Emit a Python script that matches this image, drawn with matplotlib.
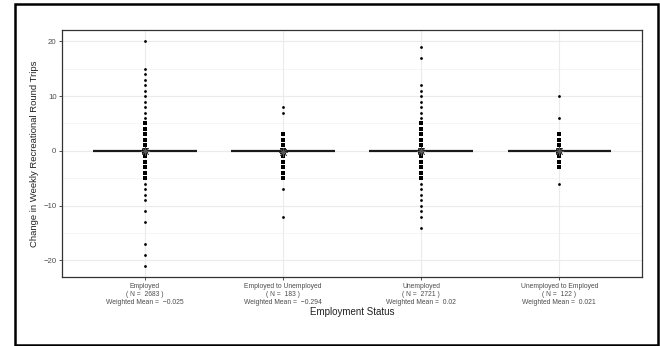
import numpy as np
import matplotlib
matplotlib.use("Agg")
import matplotlib.pyplot as plt
from matplotlib.patches import Rectangle

plt.rcParams['font.family'] = ['Liberation Sans', 'DejaVu Sans']

# employment groups and the distinct changes in weekly trips seen in each
groups = ["Employed", "Employed to Unemployed", "Unemployed", "Unemployed to Employed"]
group_n = [2683, 183, 2721, 122]
weighted_means = [-0.025, -0.294, 0.02, 0.021]
medians = [0, 0, 0, 0]

changes = [
    [20, 15, 14, 13, 12, 11, 10, 9, 8, 7, 6, 5, 4, 3, 2, 1, 0,
     -1, -2, -3, -4, -5, -6, -7, -8, -9, -11, -13, -17, -19, -21],
    [8, 7, 3, 2, 1, 0, -1, -2, -3, -4, -5, -7, -12],
    [19, 17, 12, 11, 10, 9, 8, 7, 6, 5, 4, 3, 2, 1, 0,
     -1, -2, -3, -4, -5, -6, -7, -8, -9, -10, -11, -12, -14],
    [10, 6, 3, 2, 1, 0, -1, -2, -3, -6],
]

fig = plt.figure(figsize=(6.6, 3.46), dpi=100)
ax = fig.add_axes([0.094, 0.199, 0.879, 0.714])

xpos = np.arange(1, len(groups) + 1)

# grid like theme_bw
for y in [-20, -10, 0, 10, 20]:
    ax.axhline(y, color="#ebebeb", lw=0.8, zorder=0)
for y in [-15, -5, 5, 15]:
    ax.axhline(y, color="#f2f2f2", lw=0.5, zorder=0)
for x in xpos:
    ax.axvline(x, color="#ebebeb", lw=0.8, zorder=0)

for i, vals in enumerate(changes):
    vals = np.array(vals)
    x = xpos[i]
    # box collapses to a line since all quartiles sit at the median
    ax.plot([x - 0.375, x + 0.375], [medians[i], medians[i]],
            color="#1a1a1a", lw=1.6, solid_capstyle="butt", zorder=2)
    far = vals[np.abs(vals) > 5]
    near = vals[(np.abs(vals) <= 5) & (vals != 0)]
    ax.scatter(np.full(len(far), x), far, s=4, marker="o",
               color="black", linewidths=0, zorder=3)
    ax.scatter(np.full(len(near), x), near, s=6, marker="s",
               color="black", linewidths=0, zorder=3)
    ax.scatter([x], [0], s=20, marker="s", color="#111111",
               linewidths=0, zorder=3)
    ax.scatter([x], [weighted_means[i]], s=36, marker=(8, 2, 0),
               color="#555555", linewidths=0.6, zorder=4)

ax.set_xlim(0.4, 4.6)
ax.set_ylim(-23.05, 22.05)
ax.set_yticks([-20, -10, 0, 10, 20])
ax.set_xticks(xpos)
ax.set_xticklabels(
    [f"{g}\n( N =  {n} )\nWeighted Mean =  {m:g}".replace("-", "\u2212")
     for g, n, m in zip(groups, group_n, weighted_means)],
    fontsize=4.9, color="#4d4d4d", linespacing=1.15)
ax.tick_params(axis="y", labelsize=5.6, labelcolor="#4d4d4d",
               color="#333333", length=2.5, width=0.6, pad=1.5)
ax.tick_params(axis="x", color="#333333", length=2.5, width=0.6, pad=2)

for side in ax.spines.values():
    side.set_color("#333333")
    side.set_linewidth(0.9)

ax.set_ylabel("Change in Weekly Recreational Round Trips", fontsize=6.8,
              labelpad=3, color="#222222")
ax.set_xlabel("Employment Status", fontsize=7, labelpad=1, color="#222222")

# outer frame around the whole figure
fig.patches.append(Rectangle((0.022, 0.003), 0.975, 0.985, transform=fig.transFigure,
                             fill=False, edgecolor="black", lw=1.8))

fig.savefig("out.png", dpi=100, facecolor="white")
